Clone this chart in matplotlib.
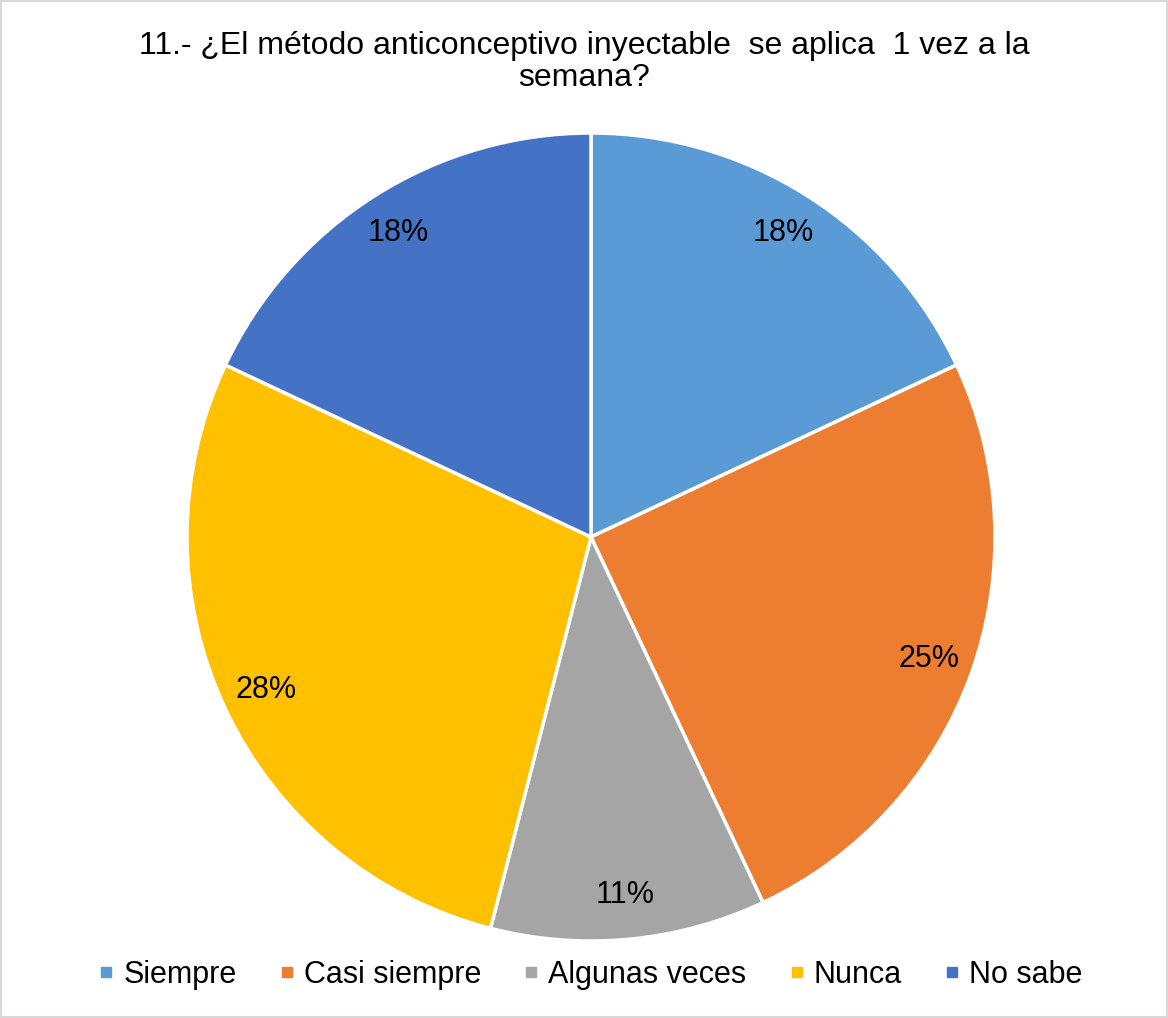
import matplotlib
matplotlib.use("Agg")
import matplotlib.pyplot as plt
from matplotlib.lines import Line2D
from matplotlib.patches import Rectangle

plt.rcParams['font.family'] = ['Liberation Sans', 'DejaVu Sans']

labels = ['Siempre', 'Casi siempre', 'Algunas veces', 'Nunca', 'No sabe']
values = [18, 25, 11, 28, 18]
colors = ['#5B9BD5', '#ED7D31', '#A5A5A5', '#FFC000', '#4472C4']
title = '11.- ¿El método anticonceptivo inyectable  se aplica  1 vez a la\nsemana?'

W, H = 1168, 1018
fig = plt.figure(figsize=(W / 100, H / 100), dpi=100)

# pie placement in pixels
cx, cy, r = 591, 537, 404
ax = fig.add_axes([(cx - r) / W, (H - cy - r) / H, 2 * r / W, 2 * r / H])
ax.pie(values, colors=colors, startangle=90, counterclock=False,
       autopct='%1.0f%%', pctdistance=0.89, radius=1,
       wedgeprops=dict(edgecolor='white', linewidth=2.5),
       textprops=dict(fontsize=22, color='black'))
ax.set_xlim(-1, 1)
ax.set_ylim(-1, 1)
ax.set_aspect('equal')
ax.axis('off')

fig.text(0.5, 1 - 62 / H, title, ha='center', va='center', fontsize=23,
         linespacing=1.08)

handles = [Line2D([], [], marker='s', linestyle='none', markersize=7.5,
                  markerfacecolor=c, markeredgecolor=c) for c in colors]
fig.legend(handles, labels, loc='center', bbox_to_anchor=(0.505, 1 - 975 / H),
           ncol=5, frameon=False, fontsize=22, handlelength=0.6,
           handletextpad=0.26, columnspacing=1.34)

fig.patches.append(Rectangle((0, 0), 1, 1, transform=fig.transFigure,
                             fill=False, edgecolor='#d9d9d9', linewidth=3))

fig.savefig('out.png', dpi=100)
